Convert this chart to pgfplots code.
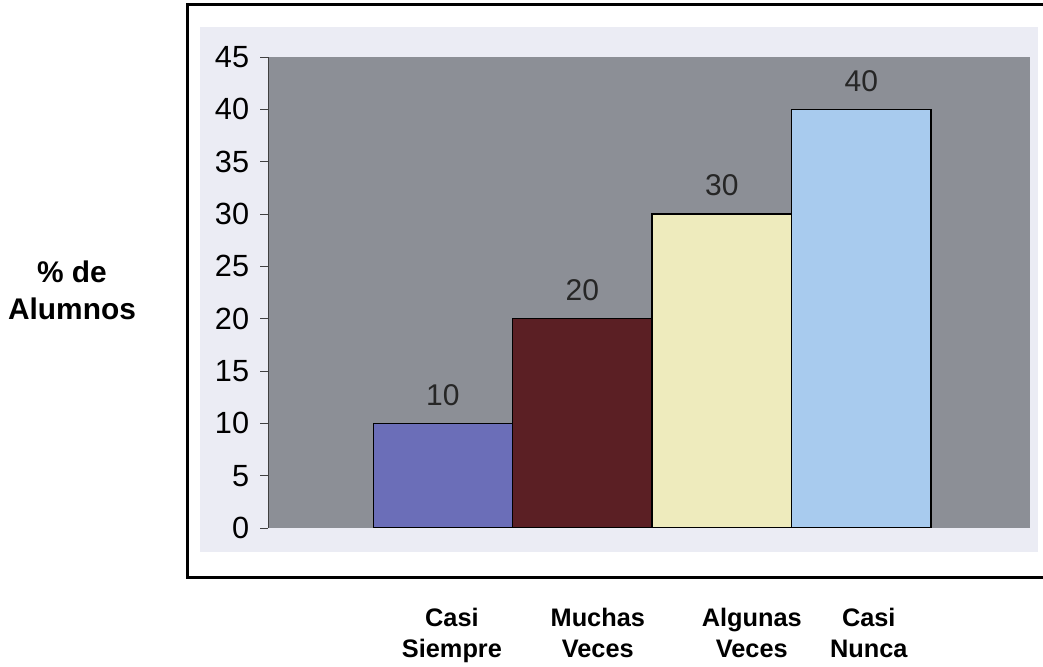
\documentclass[border=0pt]{standalone}
\usepackage{pgfplots}
\pgfplotsset{compat=1.18}
\usepackage{fontspec}
\setmainfont{Liberation Sans}

\definecolor{panel}{RGB}{235,236,244}
\definecolor{plotgray}{RGB}{140,143,150}
\definecolor{barblue}{RGB}{107,110,184}
\definecolor{barred}{RGB}{91,31,36}
\definecolor{baryellow}{RGB}{238,235,189}
\definecolor{barlightblue}{RGB}{168,203,238}

\begin{document}
\begin{tikzpicture}[x=1pt,y=1pt]
\useasboundingbox (0,0) rectangle (782.25,500.25);
% chart panel and frame
\fill[panel] (150,86.25) rectangle (778.5,480);
\draw[line width=2.25pt] (140.25,66.75) rectangle (800,496.5);
% vertical axis title
\node[font=\bfseries\fontsize{22.4}{27.5}\selectfont, align=center] at (54,282.75) {\% de\\Alumnos};
\begin{axis}[
  at={(201pt,104.25pt)}, anchor=south west,
  scale only axis, width=571.5pt, height=353.25pt,
  xmin=-1.254, xmax=4.21, ymin=0, ymax=45,
  ytick={0,5,...,45},
  % category names sit slightly right of their bars
  xtick={0.065,1.111,2.215,3.054},
  xticklabels={{Casi\\Siempre},{Muchas\\Veces},{Algunas\\Veces},{Casi\\Nunca}},
  axis background/.style={fill=plotgray},
  axis x line*=bottom, axis y line*=left,
  axis line style={-, draw=black!75, line width=0.6pt},
  x axis line style={draw=none},
  tick align=outside, major tick length=6pt,
  ytick style={draw=black!75, line width=0.6pt},
  xtick style={draw=none},
  /pgf/number format/assume math mode=true,
  yticklabel style={font=\fontsize{23}{24}\selectfont, inner sep=0pt, xshift=-8pt},
  xticklabel style={font=\bfseries\fontsize{19}{23}\selectfont, align=center,
    inner sep=0pt, anchor=north, yshift=-54pt},
  nodes near coords,
  every node near coord/.append style={font=\fontsize{22.5}{24}\selectfont,
    anchor=south, inner sep=0pt, yshift=13pt, text=black!85},
  bar width=1, ybar,
]
\addplot[ybar, bar shift=0pt, fill=barblue, draw=black, line width=0.9pt] coordinates {(0,10)};
\addplot[ybar, bar shift=0pt, fill=barred, draw=black, line width=0.9pt] coordinates {(1,20)};
\addplot[ybar, bar shift=0pt, fill=baryellow, draw=black, line width=0.9pt] coordinates {(2,30)};
\addplot[ybar, bar shift=0pt, fill=barlightblue, draw=black, line width=0.9pt] coordinates {(3,40)};
\end{axis}
\end{tikzpicture}
\end{document}
